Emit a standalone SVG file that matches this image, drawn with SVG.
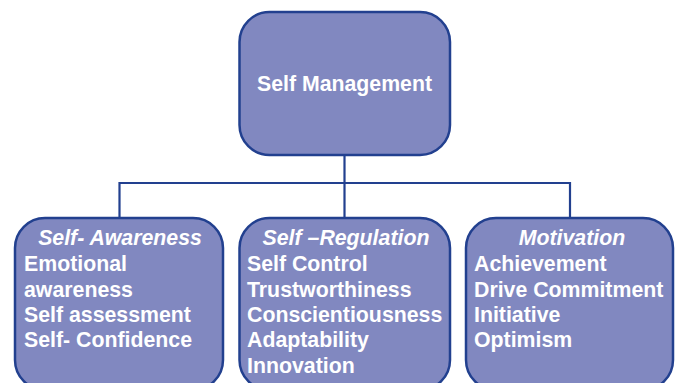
<svg xmlns="http://www.w3.org/2000/svg" width="678" height="383" viewBox="0 0 678 383">
  <style>
    .box { fill: #8188c0; stroke: #22408f; stroke-width: 2.5; }
    .link { fill: none; stroke: #22408f; stroke-width: 2.2; }
    .t { font-family: "Liberation Sans", Arial, sans-serif; font-weight: bold; font-size: 21.3px; fill: #ffffff; }
    .head { font-style: italic; text-anchor: middle; }
  </style>
  <rect width="678" height="383" fill="#ffffff"/>

  <!-- tree connectors -->
  <g id="connectors">
    <path class="link" d="M344.5,155 V218"/>
    <path class="link" d="M119.5,218 V183 H570 V218"/>
  </g>

  <!-- root -->
  <g id="self-management">
    <rect class="box" x="239.5" y="12" width="210.5" height="143" rx="30" ry="30"/>
    <text class="t" x="344.5" y="91" text-anchor="middle">Self Management</text>
  </g>

  <!-- children -->
  <g id="self-awareness">
    <rect class="box" x="15" y="218" width="208" height="172" rx="30" ry="30"/>
    <text class="t head" x="120" y="245">Self- Awareness</text>
    <text class="t" x="24" y="271">Emotional</text>
    <text class="t" x="24" y="296.5">awareness</text>
    <text class="t" x="24" y="321.5">Self assessment</text>
    <text class="t" x="24" y="347">Self- Confidence</text>
  </g>

  <g id="self-regulation">
    <rect class="box" x="239.5" y="218" width="210.5" height="172" rx="30" ry="30"/>
    <text class="t head" x="346" y="245">Self –Regulation</text>
    <text class="t" x="247" y="271">Self Control</text>
    <text class="t" x="247" y="296.5">Trustworthiness</text>
    <text class="t" x="247" y="321.5">Conscientiousness</text>
    <text class="t" x="247" y="347">Adaptability</text>
    <text class="t" x="247" y="372.5">Innovation</text>
  </g>

  <g id="motivation">
    <rect class="box" x="466" y="218" width="207" height="172" rx="30" ry="30"/>
    <text class="t head" x="572" y="245">Motivation</text>
    <text class="t" x="474" y="271">Achievement</text>
    <text class="t" x="474" y="296.5">Drive Commitment</text>
    <text class="t" x="474" y="321.5">Initiative</text>
    <text class="t" x="474" y="347">Optimism</text>
  </g>
</svg>
